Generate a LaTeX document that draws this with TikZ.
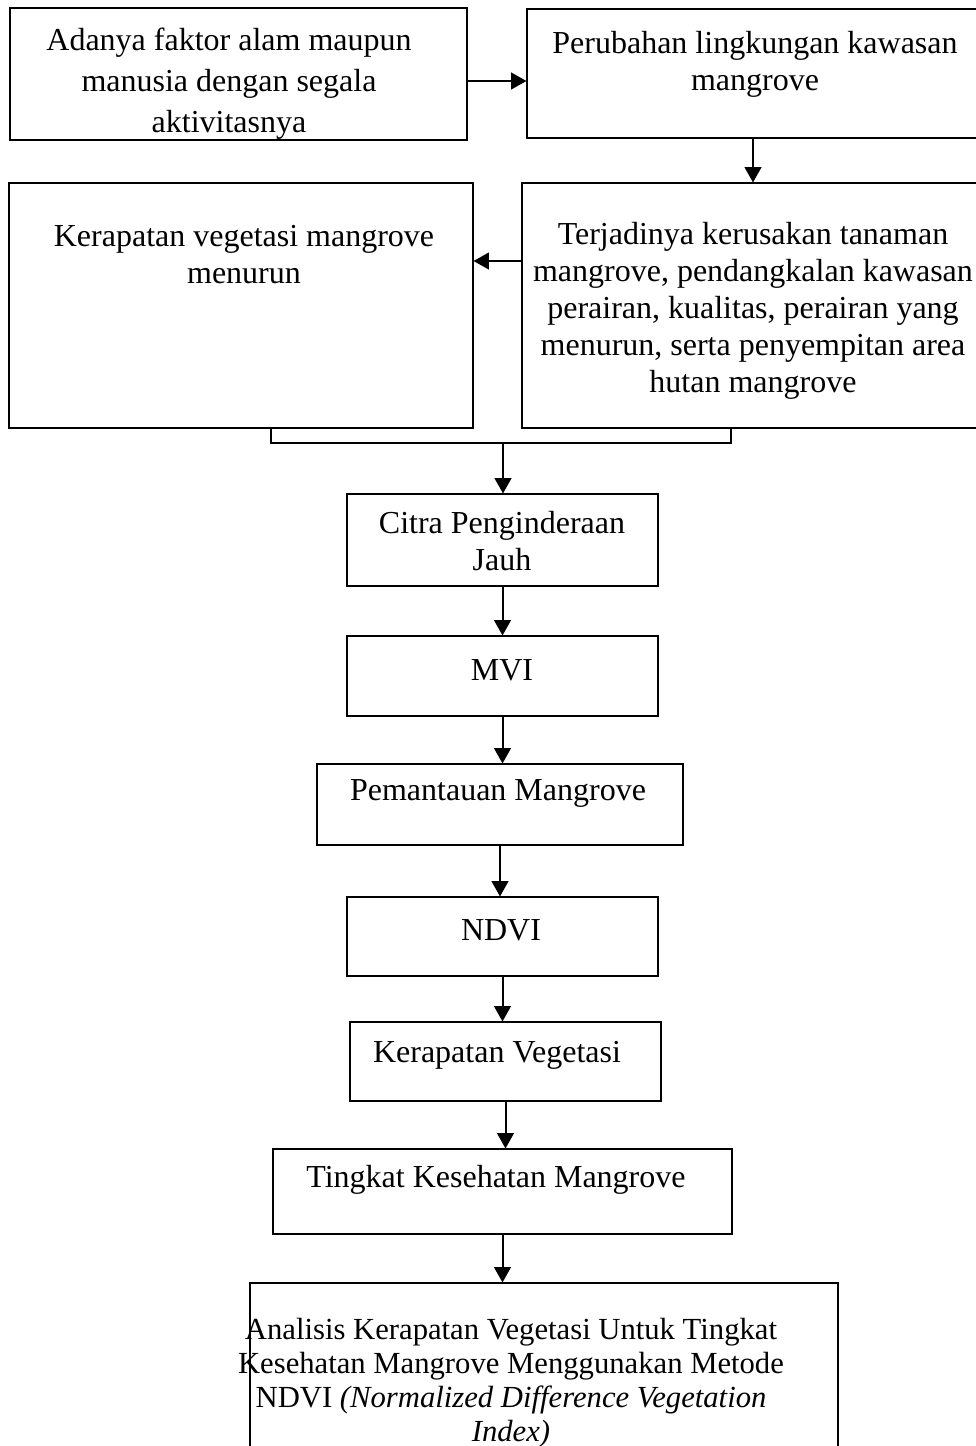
\documentclass[tikz,border=0pt]{standalone}
\usepackage{fontspec}
\setmainfont{Liberation Serif}
\usetikzlibrary{fit,arrows.meta}
\begin{document}
\begin{tikzpicture}[x=0.75pt,y=-0.75pt,
  box/.style={draw=black,line width=0.8pt,inner sep=0pt,rectangle},
  txt/.style={inner sep=0pt,align=center,font=\fontsize{24}{27.75}\selectfont},
  conn/.style={line width=1.5pt},
  arr/.style={line width=1.5pt,-{Triangle[length=11.5pt,width=12.5pt]}}]
\useasboundingbox (0,0) rectangle (975,1446);
% boxes
\node[box,fit={(10,8) (467,140)}] (b1) {};
\node[box,fit={(527,9) (985,138)}] (b2) {};
\node[box,fit={(9,183) (473,428)}] (b3) {};
\node[box,fit={(522,183) (985,428)}] (b4) {};
\node[box,fit={(347,494) (658,586)}] (citra) {};
\node[box,fit={(347,636) (658,716)}] (mvi) {};
\node[box,fit={(317,764) (683,845)}] (pem) {};
\node[box,fit={(347,897) (658,976)}] (ndvi) {};
\node[box,fit={(350,1022) (661,1101)}] (kv) {};
\node[box,fit={(273,1149) (732,1234)}] (ting) {};
\node[box,fit={(250,1283) (838,1470)}] (anal) {};
% texts
\node[txt,font=\fontsize{24}{30.75}\selectfont] (t1) at (229,84) {Adanya faktor alam maupun\\manusia dengan segala\\aktivitasnya};
\node[txt] (t2) at (755,64.5) {Perubahan lingkungan kawasan\\mangrove};
\node[txt] (t3) at (244,254.5) {Kerapatan vegetasi mangrove\\menurun};
\node[txt] (t4) at (753,311) {Terjadinya kerusakan tanaman\\mangrove, pendangkalan kawasan\\perairan, kualitas, perairan yang\\menurun, serta penyempitan area\\hutan mangrove};
\node[txt] (tc) at (502,541) {Citra Penginderaan\\Jauh};
\node[txt] (tm) at (502,670) {MVI};
\node[txt] (tp) at (498,793) {Pemantauan Mangrove};
\node[txt] (tn) at (501,930) {NDVI};
\node[txt] (tk) at (497,1055) {Kerapatan Vegetasi};
\node[txt] (tt) at (496,1180) {Tingkat Kesehatan Mangrove};
\node[txt,font=\fontsize{23}{25.5}\selectfont] (ta) at (511,1383) {Analisis Kerapatan Vegetasi Untuk Tingkat\\Kesehatan Mangrove Menggunakan Metode\\NDVI \textit{(Normalized Difference Vegetation}\\\textit{Index)}};
% connectors
\coordinate (m1) at (500,261);
\coordinate (bl) at (271,443);
\coordinate (br) at (731,443);
\coordinate (bm) at (503,443);
\draw[arr] (b1.east |- 0,81) -- (b2.west |- 0,81);
\draw[arr] (b2.south -| t4) -- (b4.north -| t4);
\draw[arr] (b4.west |- m1) -- (b3.east |- m1);
\draw[conn] (b3.south -| bl) -- (bl) -- (br) -- (b4.south -| br);
\draw[arr] (bm) -- (bm |- citra.north);
\draw[arr] (citra.south) -- (citra.south |- mvi.north);
\draw[arr] (mvi.south) -- (mvi.south |- pem.north);
\draw[arr] (pem.south) -- (pem.south |- ndvi.north);
\draw[arr] (ndvi.south) -- (ndvi.south |- kv.north);
\draw[arr] (kv.south) -- (kv.south |- ting.north);
\draw[arr] (ting.south) -- (ting.south |- anal.north);
\end{tikzpicture}
\end{document}
